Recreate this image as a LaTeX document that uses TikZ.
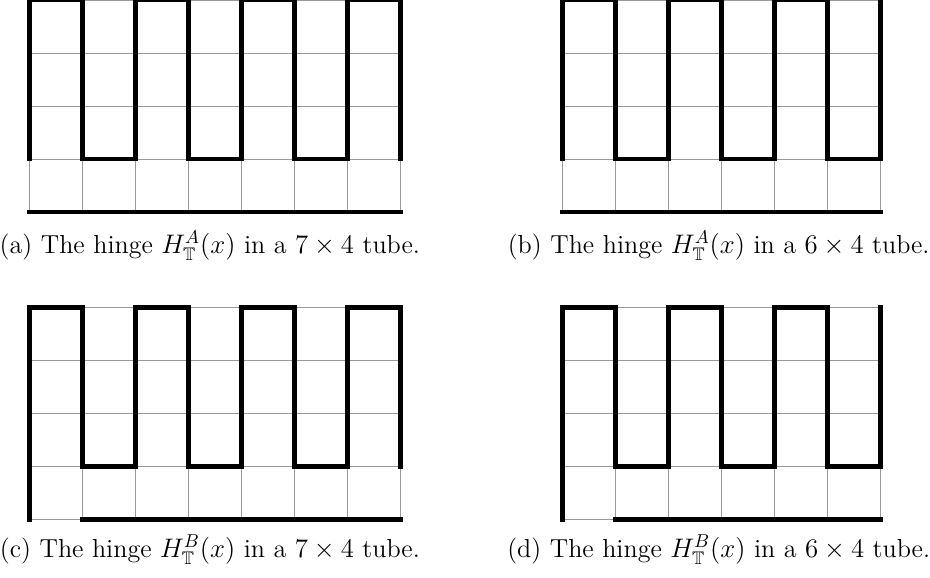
\documentclass[tikz,border=0pt]{standalone}
\usepackage{amsmath,amssymb}
\usetikzlibrary{positioning}

\tikzset{
  gridline/.style={black!40, line width=0.4pt},
  hinge/.style={line width=2.4pt, line cap=rect, miter limit=10},
  captext/.style={anchor=base, inner sep=0pt, font=\fontsize{14}{16}\selectfont},
}

\begin{document}
\begin{tikzpicture}
    \useasboundingbox (0,0) rectangle (17.547,-10.887);
    % (a) hinge A, 7 x 4
    \begin{scope}[shift={(0.553,-4)}]
        \draw[gridline] (0,0) grid (7,4);
        \draw[hinge] (0,1) -- (0,4) -- (1,4) -- (1,1) -- (2,1) -- (2,4) -- (3,4) -- (3,1) -- (4,1) -- (4,4) -- (5,4) -- (5,1) -- (6,1) -- (6,4) -- (7,4) -- (7,1);
        \draw[hinge] (0,0) -- (7,0);
    \end{scope}
    % (b) hinge A, 6 x 4
    \begin{scope}[shift={(10.609,-4)}]
        \draw[gridline] (0,0) grid (6,4);
        \draw[hinge] (0,1) -- (0,4) -- (1,4) -- (1,1) -- (2,1) -- (2,4) -- (3,4) -- (3,1) -- (4,1) -- (4,4) -- (5,4) -- (5,1) -- (6,1) -- (6,4);
        \draw[hinge] (0,0) -- (6,0);
    \end{scope}
    % (c) hinge B, 7 x 4
    \begin{scope}[shift={(0.553,-9.798)}]
        \draw[gridline] (0,0) grid (7,4);
        \draw[hinge] (0,0) -- (0,4) -- (1,4) -- (1,1) -- (2,1) -- (2,4) -- (3,4) -- (3,1) -- (4,1) -- (4,4) -- (5,4) -- (5,1) -- (6,1) -- (6,4) -- (7,4) -- (7,1);
        \draw[hinge] (1,0) -- (7,0);
    \end{scope}
    % (d) hinge B, 6 x 4
    \begin{scope}[shift={(10.609,-9.798)}]
        \draw[gridline] (0,0) grid (6,4);
        \draw[hinge] (0,0) -- (0,4) -- (1,4) -- (1,1) -- (2,1) -- (2,4) -- (3,4) -- (3,1) -- (4,1) -- (4,4) -- (5,4) -- (5,1) -- (6,1) -- (6,4);
        \draw[hinge] (1,0) -- (6,0);
    \end{scope}
    % captions
    \node[captext] (capA) at (3.96,-4.774) {(a) The hinge $H^{A}_{\mathbb{T}}(x)$ in a $7\times4$ tube.};
    \node[captext] (capB) at (13.56,-4.774) {(b) The hinge $H^{A}_{\mathbb{T}}(x)$ in a $6\times4$ tube.};
    \node[captext] (capC) at (3.96,-10.52) {(c) The hinge $H^{B}_{\mathbb{T}}(x)$ in a $7\times4$ tube.};
    \node[captext] (capD) at (13.56,-10.52) {(d) The hinge $H^{B}_{\mathbb{T}}(x)$ in a $6\times4$ tube.};
\end{tikzpicture}
\end{document}
